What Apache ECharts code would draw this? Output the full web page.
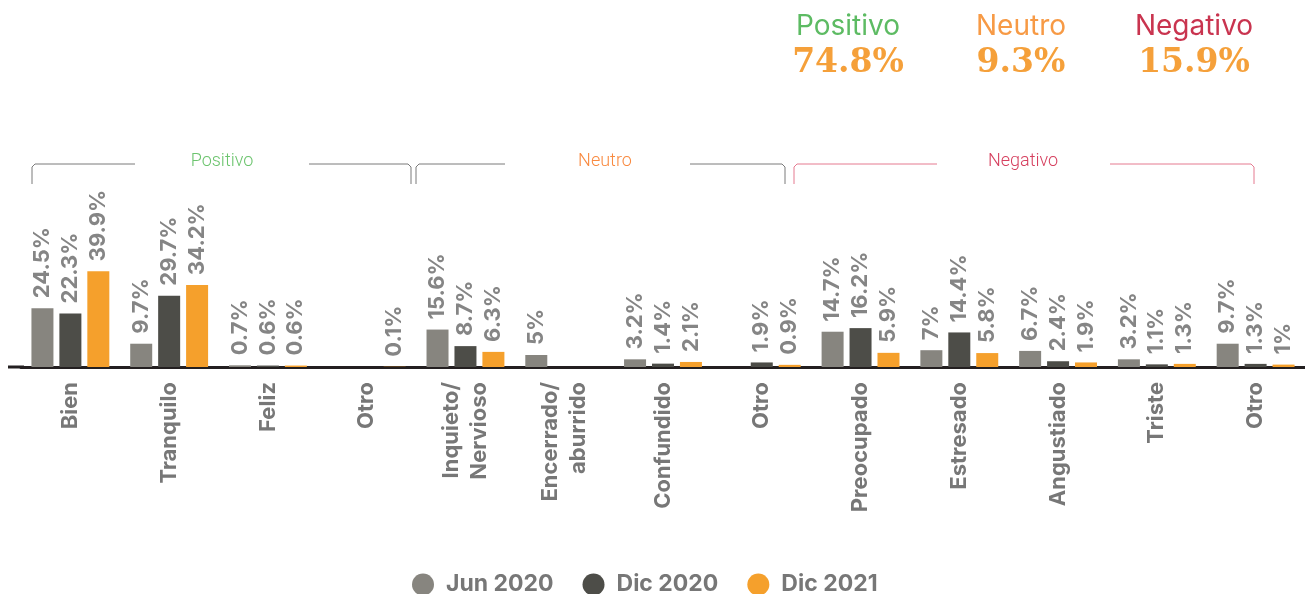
<!DOCTYPE html>
<html>
<head>
<meta charset="utf-8">
<script src="https://cdn.jsdelivr.net/npm/echarts@6/dist/echarts.min.js"></script>
<style>
  html, body { margin: 0; padding: 0; background: #fff; }
  #chart { width: 1305px; height: 594px; }
</style>
</head>
<body>
<div id="chart"></div>
<script>
// categorias (eje x)
const categorias = [
    'Bien', 'Tranquilo', 'Feliz', 'Otro',
    'Inquieto/\nNervioso', 'Encerrado/\naburrido', 'Confundido', 'Otro',
    'Preocupado', 'Estresado', 'Angustiado', 'Triste', 'Otro'
];
// valores por medicion (null = sin dato)
const jun2020 = [24.5, 9.7, 0.7, null, 15.6, 5, 3.2, null, 14.7, 7, 6.7, 3.2, 9.7];
const dic2020 = [22.3, 29.7, 0.6, null, 8.7, null, 1.4, 1.9, 16.2, 14.4, 2.4, 1.1, 1.3];
const dic2021 = [39.9, 34.2, 0.6, 0.1, 6.3, null, 2.1, 0.9, 5.9, 5.8, 1.9, 1.3, 1];

// resumen superior
const resumenNombres = ['Positivo', 'Neutro', 'Negativo'];
const resumenValores = ['74.8%', '9.3%', '15.9%'];

const chart = echarts.init(document.getElementById('chart'));

const FONT = 'Inter';
const colores = ['#87857f', '#4d4d48', '#f5a02c'];
const resumenColores = ['#5dbb63', '#f79a45', '#c9344f'];
const resumenX = [848, 1021, 1194];

function serie(name, data, color) {
    return {
        name: name,
        type: 'bar',
        data: data,
        barWidth: 22,
        barGap: '27%',
        itemStyle: { color: color },
        label: {
            show: true,
            position: 'top',
            rotate: 90,
            align: 'left',
            verticalAlign: 'middle',
            distance: 10,
            fontFamily: FONT,
            fontWeight: 700,
            fontSize: 22,
            color: '#858585',
            formatter: (p) => p.value + '%'
        }
    };
}

// llaves de grupos (anotaciones)
function llave(x1, x2, g1, g2, color) {
    return [
        {
            type: 'polyline',
            shape: { points: [[x1, 184], [x1, 167], [x1 + 3, 164], [g1, 164]] },
            style: { stroke: color, lineWidth: 1, fill: null }
        },
        {
            type: 'polyline',
            shape: { points: [[g2, 164], [x2 - 3, 164], [x2, 167], [x2, 184]] },
            style: { stroke: color, lineWidth: 1, fill: null }
        }
    ];
}

function etiquetaGrupo(texto, x, color) {
    return {
        type: 'text', x: x, y: 161,
        style: { text: texto, fill: color, align: 'center', verticalAlign: 'middle', font: '300 18px Roboto' }
    };
}

const graphics = [].concat(
    llave(32, 411, 135, 309, '#7a7a7a'),
    llave(416, 785, 505, 690, '#7a7a7a'),
    llave(794, 1254, 937, 1110, '#e57a90'),
    [
        etiquetaGrupo('Positivo', 222, '#6cc46e'),
        etiquetaGrupo('Neutro', 605, '#f98a40'),
        etiquetaGrupo('Negativo', 1023, '#d6405f'),
        // extension de la linea base hacia la izquierda
        { type: 'rect', shape: { x: 8, y: 365.5, width: 16, height: 3 }, style: { fill: '#231f20' } }
    ]
);

resumenNombres.forEach((n, i) => {
    graphics.push({
        type: 'text',
        x: resumenX[i], y: 27,
        style: {
            text: n, fill: resumenColores[i], align: 'center', verticalAlign: 'middle',
            font: '400 28px ' + FONT
        }
    });
    graphics.push({
        type: 'text',
        x: resumenX[i], y: 63,
        style: {
            text: resumenValores[i], fill: '#f5a03a', align: 'center', verticalAlign: 'middle',
            font: 'bold 33px "DejaVu Serif"'
        }
    });
});

const option = {
    animation: false,
    grid: { left: 21, right: -4, top: 247, bottom: 227 },
    legend: {
        data: ['Jun 2020', 'Dic 2020', 'Dic 2021'],
        left: 407,
        top: 568,
        icon: 'circle',
        itemWidth: 22,
        itemHeight: 22,
        itemGap: 29,
        textStyle: { fontFamily: FONT, fontWeight: 700, fontSize: 23, color: '#777', padding: [0, 0, 0, 7] }
    },
    xAxis: {
        type: 'category',
        data: categorias,
        axisTick: { show: false },
        axisLine: { lineStyle: { color: '#231f20', width: 3 } },
        axisLabel: {
            interval: 0,
            rotate: 90,
            margin: 15,
            fontFamily: FONT,
            fontWeight: 700,
            fontSize: 22,
            lineHeight: 28,
            color: '#777'
        }
    },
    yAxis: {
        type: 'value',
        min: 0,
        max: 50,
        show: false
    },
    series: [
        serie('Jun 2020', jun2020, colores[0]),
        serie('Dic 2020', dic2020, colores[1]),
        serie('Dic 2021', dic2021, colores[2])
    ],
    graphic: graphics
};

chart.setOption(option);
</script>
</body>
</html>
